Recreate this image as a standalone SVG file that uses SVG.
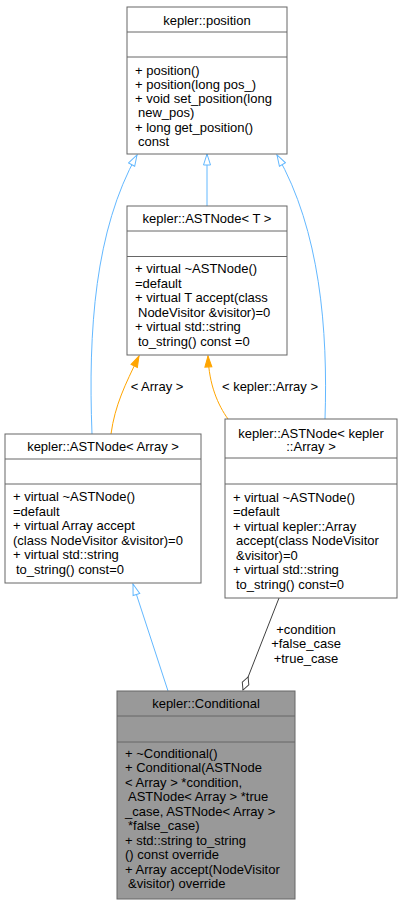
<svg xmlns="http://www.w3.org/2000/svg" width="403" height="905" viewBox="0 0 403 905">
<style>
text{font-family:"Liberation Sans",Arial,sans-serif;font-size:13px;fill:#000}
.t{text-anchor:middle}
.box{fill:#fff;stroke:#666;stroke-width:1}
.cur{fill:#999;stroke:#666;stroke-width:1}
.sep{stroke:#666;stroke-width:1}
.inh{fill:none;stroke:#63b8ff;stroke-width:1}
.tpl{fill:none;stroke:#ffa500;stroke-width:1}
.cmp{fill:none;stroke:#404040;stroke-width:1}
</style>
<defs>
<marker id="tri" markerUnits="userSpaceOnUse" markerWidth="13" markerHeight="9" viewBox="-1 -1 13 9" refX="11" refY="3.5" orient="auto"><path d="M0,0 L11,3.5 L0,7 z" fill="#fff" stroke="#63b8ff"/></marker>
<marker id="otri" markerUnits="userSpaceOnUse" markerWidth="13" markerHeight="9" viewBox="-1 -1 13 9" refX="11" refY="3.5" orient="auto"><path d="M0,0 L11,3.5 L0,7 z" fill="#ffa500" stroke="#ffa500"/></marker>
<marker id="dia" markerUnits="userSpaceOnUse" markerWidth="16" markerHeight="9" viewBox="-1 -1 16 9" refX="14" refY="3.5" orient="auto"><path d="M0,3.5 L7,0 L14,3.5 L7,7 z" fill="#fff" stroke="#404040"/></marker>
</defs>
<g id="connectors">
<path class="inh" d="M207,206 L207,154" marker-end="url(#tri)"/>
<path class="inh" d="M92,434 C88,330 95,230 137,155" marker-end="url(#tri)"/>
<path class="inh" d="M325,419 C328,330 320,230 277,155" marker-end="url(#tri)"/>
<path class="tpl" d="M111,434 C115,405 125,385 139,356" marker-end="url(#otri)"/>
<text class="t" x="157" y="391">&lt; Array &gt;</text>
<path class="tpl" d="M228,419 C218,405 209,385 208,356" marker-end="url(#otri)"/>
<text class="t" x="270" y="391">&lt; kepler::Array &gt;</text>
<path class="inh" d="M168,691 L133,584" marker-end="url(#tri)"/>
<path class="cmp" d="M279,598 L243,690" marker-end="url(#dia)"/>
<text class="t" x="306" y="633.5">+condition</text>
<text class="t" x="306" y="648">+false_case</text>
<text class="t" x="306" y="662.5">+true_case</text>
</g>
<g id="position">
<rect class="box" x="127" y="7" width="160" height="147"/>
<line class="sep" x1="127" y1="32" x2="287" y2="32"/>
<line class="sep" x1="127" y1="57" x2="287" y2="57"/>
<text class="t" x="207" y="24.5">kepler::position</text>
<text x="135" y="74.5">+ position()</text>
<text x="135" y="88.8">+ position(long pos_)</text>
<text x="135" y="103.1">+ void set_position(long</text>
<text x="138" y="117.4">new_pos)</text>
<text x="135" y="131.7">+ long get_position()</text>
<text x="138" y="146">const</text>
</g>
<g id="astnode_t">
<rect class="box" x="127" y="206" width="160" height="149"/>
<line class="sep" x1="127" y1="231" x2="287" y2="231"/>
<line class="sep" x1="127" y1="256.5" x2="287" y2="256.5"/>
<text class="t" x="207" y="223">kepler::ASTNode&lt; T &gt;</text>
<text x="135" y="273">+ virtual ~ASTNode()</text>
<text x="135" y="287.5">=default</text>
<text x="135" y="302">+ virtual T accept(class</text>
<text x="138" y="316.5">NodeVisitor &amp;visitor)=0</text>
<text x="135" y="331">+ virtual std::string</text>
<text x="138" y="345.5">to_string() const =0</text>
</g>
<g id="astnode_array">
<rect class="box" x="5" y="434" width="196" height="149"/>
<line class="sep" x1="5" y1="459" x2="201" y2="459"/>
<line class="sep" x1="5" y1="484" x2="201" y2="484"/>
<text class="t" x="103" y="451">kepler::ASTNode&lt; Array &gt;</text>
<text x="13" y="501">+ virtual ~ASTNode()</text>
<text x="13" y="515.5">=default</text>
<text x="13" y="530">+ virtual Array accept</text>
<text x="13" y="544.5">(class NodeVisitor &amp;visitor)=0</text>
<text x="13" y="559">+ virtual std::string</text>
<text x="16" y="573.5">to_string() const=0</text>
</g>
<g id="astnode_kepler_array">
<rect class="box" x="225" y="419" width="172" height="179"/>
<line class="sep" x1="225" y1="458" x2="397" y2="458"/>
<line class="sep" x1="225" y1="484" x2="397" y2="484"/>
<text class="t" x="311" y="437.5">kepler::ASTNode&lt; kepler</text>
<text class="t" x="311" y="451">::Array &gt;</text>
<text x="233" y="501.5">+ virtual ~ASTNode()</text>
<text x="233" y="516">=default</text>
<text x="233" y="530.5">+ virtual kepler::Array</text>
<text x="236" y="545">accept(class NodeVisitor</text>
<text x="236" y="559.5">&amp;visitor)=0</text>
<text x="233" y="574">+ virtual std::string</text>
<text x="236" y="588.5">to_string() const=0</text>
</g>
<g id="conditional">
<rect class="cur" x="117" y="691" width="178" height="208"/>
<line class="sep" x1="117" y1="716" x2="295" y2="716"/>
<line class="sep" x1="117" y1="742" x2="295" y2="742"/>
<text class="t" x="206" y="708">kepler::Conditional</text>
<text x="125" y="757.5">+ ~Conditional()</text>
<text x="125" y="772">+ Conditional(ASTNode</text>
<text x="125" y="786.5">&lt; Array &gt; *condition,</text>
<text x="128" y="801">ASTNode&lt; Array &gt; *true</text>
<text x="125" y="815.5">_case, ASTNode&lt; Array &gt;</text>
<text x="128" y="830">*false_case)</text>
<text x="125" y="844.5">+ std::string to_string</text>
<text x="125" y="859">() const override</text>
<text x="125" y="873.5">+ Array accept(NodeVisitor</text>
<text x="128" y="888">&amp;visitor) override</text>
</g>
</svg>
